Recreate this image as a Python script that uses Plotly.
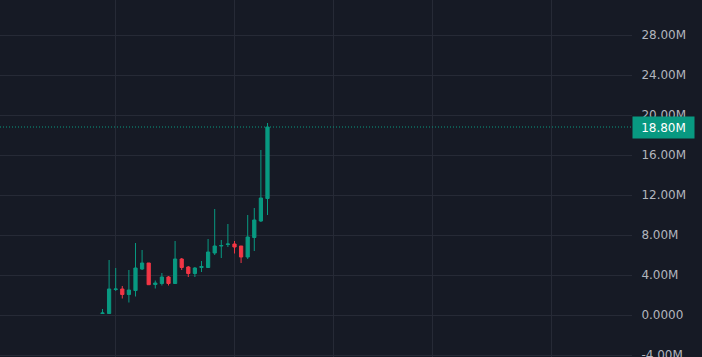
import plotly.graph_objects as go

# ---- data (values in millions) ----
bar_index = list(range(26))
open_m = [0.15, 0.15, 2.55, 2.60, 2.05, 2.45, 4.60, 5.20, 3.05, 3.15, 3.80, 3.15, 5.60,
          4.80, 4.15, 4.75, 4.75, 6.20, 6.90, 7.05, 7.10, 6.90, 5.80, 7.75, 9.40, 11.65]
high_m = [0.60, 5.50, 4.70, 2.90, 4.50, 7.20, 6.50, 5.20, 3.45, 4.20, 3.90, 7.40, 5.70,
          4.90, 4.80, 5.40, 7.60, 10.60, 7.50, 9.10, 7.40, 6.90, 10.00, 10.70, 16.50, 19.20]
low_m = [0.15, 0.15, 2.40, 1.65, 1.25, 1.85, 4.50, 3.03, 2.65, 2.95, 2.95, 3.15, 4.50,
         3.80, 3.80, 4.30, 4.75, 6.00, 5.70, 6.80, 6.15, 5.20, 5.60, 6.40, 9.30, 10.00]
close_m = [0.20, 2.60, 2.60, 2.05, 2.50, 4.70, 5.20, 3.03, 3.20, 3.80, 3.15, 5.60, 4.75,
           4.15, 4.70, 4.85, 6.30, 6.90, 6.95, 7.10, 6.80, 5.80, 7.80, 9.50, 11.70, 18.80]
last_price_m = 18.80
y_ticks_m = [-4, 0, 4, 8, 12, 16, 20, 24, 28]
top_tick_m = 32
grid_x = [2, 20, 35, 50, 68]
y_range_m = [-4.2, 31.5]

M = 1e6
opens = [v * M for v in open_m]
highs = [v * M for v in high_m]
lows = [v * M for v in low_m]
closes = [v * M for v in close_m]


def fmt(v):
    return "0.0000" if v == 0 else f"{v:.2f}M"


UP = "#089981"
DOWN = "#f23645"
BG = "#161a25"
GRID = "#262a36"
TXT = "#b2b5be"
FONT = "DejaVu Sans"

fig = go.Figure()
fig.add_trace(go.Candlestick(
    x=bar_index, open=opens, high=highs, low=lows, close=closes,
    increasing=dict(line=dict(color=UP, width=1), fillcolor=UP),
    decreasing=dict(line=dict(color=DOWN, width=1), fillcolor=DOWN),
    whiskerwidth=0, hoverinfo="skip", showlegend=False,
))

fig.add_shape(type="line", xref="paper", x0=0, x1=1, yref="y",
              y0=last_price_m * M, y1=last_price_m * M,
              line=dict(color=UP, width=1, dash="1px,2px"))

fig.add_annotation(xref="paper", x=1, xanchor="left", yref="y", y=last_price_m * M,
                   yanchor="middle", text=fmt(last_price_m), showarrow=False,
                   bgcolor=UP, font=dict(color="white", size=12, family=FONT),
                   width=57, height=17, borderpad=2, align="center")

# partially visible label above the top of the plot
top_frac = (top_tick_m - y_range_m[0]) / (y_range_m[1] - y_range_m[0])
fig.add_annotation(xref="paper", x=1, xanchor="left", xshift=5, yref="paper", y=top_frac,
                   yanchor="middle", text=fmt(top_tick_m), showarrow=False,
                   font=dict(color=TXT, size=12, family=FONT))

fig.update_layout(
    width=702, height=357,
    margin=dict(l=0, r=70, t=0, b=0, autoexpand=False),
    paper_bgcolor=BG, plot_bgcolor=BG,
    font=dict(family=FONT, size=12, color=TXT),
    xaxis=dict(range=[-15.53, 80.23], tickvals=grid_x, showticklabels=False,
               showgrid=True, gridcolor=GRID, gridwidth=1, zeroline=False,
               rangeslider=dict(visible=False), fixedrange=True, automargin=False),
    yaxis=dict(range=[v * M for v in y_range_m], side="right",
               tickvals=[v * M for v in y_ticks_m], ticktext=[fmt(v) for v in y_ticks_m],
               showgrid=True, gridcolor=GRID, gridwidth=1, zeroline=False,
               ticks="outside", ticklen=6, tickcolor=BG, ticklabeloverflow="allow",
               automargin=False,
               tickfont=dict(color=TXT, size=12, family=FONT), fixedrange=True),
)

fig.write_html("out.html")
